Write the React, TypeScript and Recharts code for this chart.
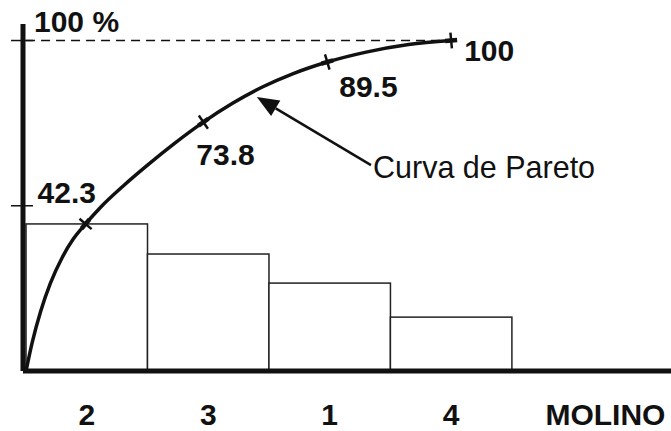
import React from 'react';
import { ComposedChart, Bar, Line, XAxis, YAxis, ReferenceLine, LabelList } from 'recharts';

const categories = ['2', '3', '1', '4'];
const categoryPositions = [0.5, 1.5, 2.5, 3.5];
const barValues = [44.5, 35.4, 26.6, 16.3];

// cumulative (Pareto) curve
const curveTraceX = [0, 0.05, 0.12, 0.2, 0.3, 0.39, 0.49, 0.62, 0.8, 1.0, 1.22, 1.46, 1.7, 1.95, 2.2, 2.48, 2.8, 3.15, 3.5];
const curveTraceY = [0, 8.5, 18, 26.5, 34.5, 40.0, 44.5, 49.8, 56.0, 62.3, 68.8, 75.3, 81.0, 86.0, 90.0, 93.5, 96.5, 98.8, 100];
const markerX = [0.49, 1.46, 2.48, 3.5];
const cumulativeLabels = ['42.3', '73.8', '89.5', '100'];

const axisTitle = 'MOLINO';
const axisTitlePosition = 4.77;
const yTitle = '100 %';
const yTicks = [50, 100];
const curveName = 'Curva de Pareto';
const arrowTail = { x: 2.84, y: 62.3 };
const arrowTip = { x: 1.9, y: 82.9 };

const W = 671;
const H = 431;
const X_DOMAIN: [number, number] = [-0.025, 5.31];
const Y_DOMAIN: [number, number] = [0, 105];
const PX_X = 121.5;
const PX_Y = 3.305;
const FONT = '"Liberation Sans", Arial, sans-serif';

const barData = categories.map((c, i) => ({ x: categoryPositions[i], name: c, bar: barValues[i] }));

const lineData = curveTraceX.map((x, i) => {
  const m = markerX.indexOf(x);
  return { x, cum: curveTraceY[i], label: m >= 0 ? cumulativeLabels[m] : undefined, m };
});

const xTicks = [...categoryPositions, axisTitlePosition];
const xTickText = (v: number) => {
  const i = categoryPositions.indexOf(v);
  return i >= 0 ? categories[i] : axisTitle;
};

const labelOffsets = [
  { dx: -48, dy: -21 },
  { dx: -7, dy: 43 },
  { dx: 12, dy: 35 },
  { dx: 13, dy: 20 },
];

const CrossDot = (props: any) => {
  const { cx, cy, index } = props;
  const pt = lineData[index];
  if (!pt || pt.m < 0 || cx == null || cy == null) return null;
  const prev = lineData[index - 1] ?? pt;
  const next = lineData[index + 1] ?? pt;
  const tx = (next.x - prev.x) * PX_X;
  const ty = -(next.cum - prev.cum) * PX_Y;
  const len = Math.hypot(tx, ty) || 1;
  const nx = -ty / len;
  const ny = tx / len;
  const ux = tx / len;
  const uy = ty / len;
  const a = 8;
  const b = 6;
  return (
    <g key={`dot-${index}`}>
      <line x1={cx - nx * a} y1={cy - ny * a} x2={cx + nx * a} y2={cy + ny * a} stroke="#111" strokeWidth={2.5} />
      <line x1={cx - ux * b} y1={cy - uy * b} x2={cx + ux * b} y2={cy + uy * b} stroke="#111" strokeWidth={4.5} />
    </g>
  );
};

const CumLabel = (props: any) => {
  const { x, y, index } = props;
  const pt = lineData[index];
  if (!pt || pt.m < 0) return null;
  const off = labelOffsets[pt.m];
  return (
    <text x={x + off.dx} y={y + off.dy} fontFamily={FONT} fontWeight="bold" fontSize={30} fill="#111" textAnchor="start">
      {pt.label}
    </text>
  );
};

const YTick = (props: any) => {
  const { x, y, payload } = props;
  return (
    <g>
      <line x1={x - 12} y1={y} x2={x + 10} y2={y} stroke="#111" strokeWidth={1.5} />
      {payload.value === 100 ? (
        <text x={x + 11} y={y - 9} fontFamily={FONT} fontWeight="bold" fontSize={30} fill="#111" textAnchor="start">
          {yTitle}
        </text>
      ) : null}
    </g>
  );
};

const XTick = (props: any) => {
  const { x, y, payload } = props;
  return (
    <text x={x} y={y + 54} fontFamily={FONT} fontWeight="bold" fontSize={30} fill="#111" textAnchor="middle">
      {xTickText(payload.value)}
    </text>
  );
};

const WideBar = (props: any) => {
  const { x, y, width, height } = props;
  if (x == null || height == null) return null;
  const c = x + width / 2;
  return <rect x={c - PX_X / 2} y={y} width={PX_X} height={height} fill="#fff" stroke="#222" strokeWidth={1.5} />;
};

const ArrowShape = (props: any) => {
  const { x1, y1, x2, y2 } = props;
  if (x1 == null) return null;
  const dx = x2 - x1;
  const dy = y2 - y1;
  const len = Math.hypot(dx, dy) || 1;
  const ux = dx / len;
  const uy = dy / len;
  const headLen = 22;
  const headW = 9;
  const bx = x2 - ux * headLen;
  const by = y2 - uy * headLen;
  const px = -uy;
  const py = ux;
  return (
    <g>
      <line x1={x1} y1={y1} x2={bx} y2={by} stroke="#111" strokeWidth={2.5} />
      <polygon
        points={`${x2},${y2} ${bx + px * headW},${by + py * headW} ${bx - px * headW},${by - py * headW}`}
        fill="#111"
      />
      <text x={x1 + 2} y={y1 + 13} fontFamily={FONT} fontSize={30.5} fill="#111" textAnchor="start">
        {curveName}
      </text>
    </g>
  );
};

export default function App() {
  return (
    <div style={{ position: 'absolute', left: 0, top: 0, width: W, height: H, background: '#fff' }}>
      <ComposedChart width={W} height={H} data={barData} margin={{ top: 24, right: 0, bottom: 0, left: 0 }}>
        <XAxis
          type="number"
          dataKey="x"
          domain={X_DOMAIN}
          allowDataOverflow
          ticks={xTicks}
          interval={0}
          height={60}
          tickLine={false}
          tickSize={0}
          tickMargin={0}
          axisLine={{ stroke: '#111', strokeWidth: 5 }}
          tick={<XTick />}
        />
        <YAxis
          type="number"
          domain={Y_DOMAIN}
          allowDataOverflow
          ticks={yTicks}
          interval={0}
          width={23}
          tickLine={false}
          tickSize={0}
          tickMargin={0}
          axisLine={{ stroke: '#111', strokeWidth: 5 }}
          tick={<YTick />}
        />
        <Bar dataKey="bar" fill="#fff" stroke="#222" strokeWidth={1.5} shape={<WideBar />} isAnimationActive={false} />
        <ReferenceLine
          segment={[{ x: 0, y: 100 }, { x: 3.5, y: 100 }]}
          stroke="#111"
          strokeWidth={1.5}
          strokeDasharray="9 6"
          ifOverflow="visible"
        />
        <ReferenceLine segment={[arrowTail, arrowTip]} shape={<ArrowShape />} ifOverflow="visible" />
        <Line
          data={lineData}
          type="monotone"
          dataKey="cum"
          stroke="#111"
          strokeWidth={3.5}
          dot={<CrossDot />}
          activeDot={false}
          isAnimationActive={false}
        >
          <LabelList dataKey="cum" content={<CumLabel />} />
        </Line>
      </ComposedChart>
    </div>
  );
}
